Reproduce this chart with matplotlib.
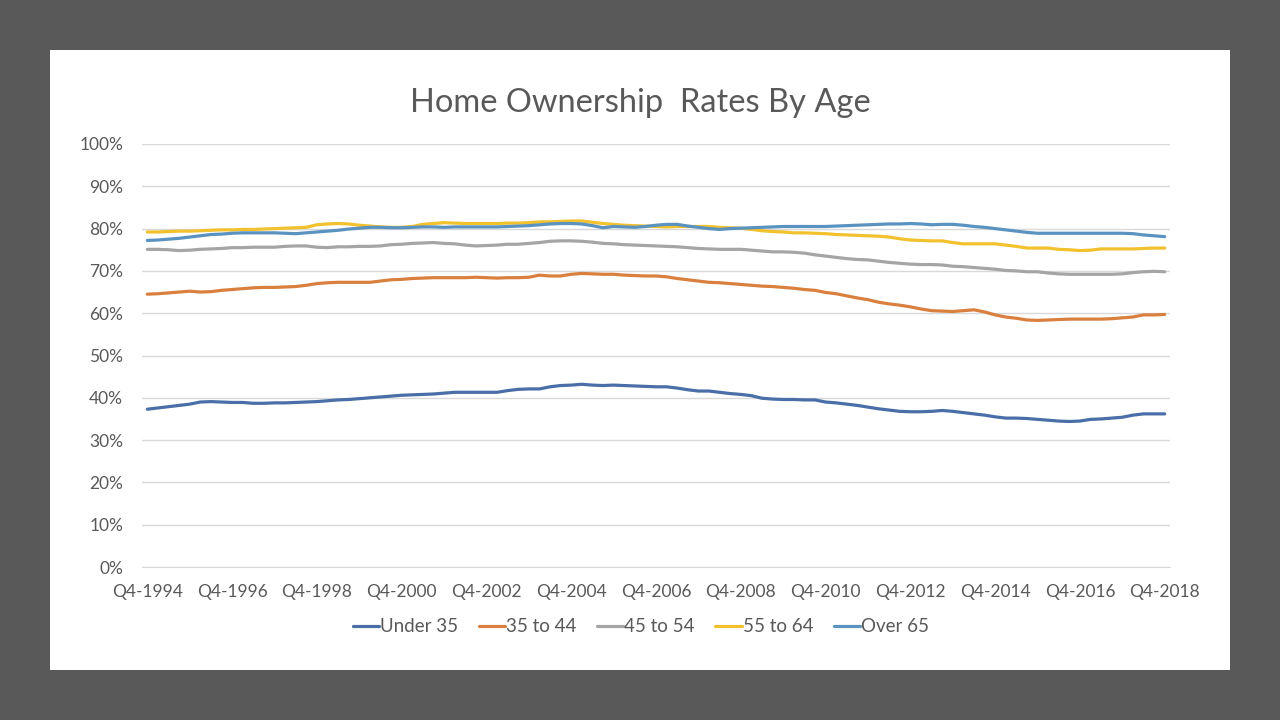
import matplotlib
matplotlib.use("Agg")
import matplotlib.pyplot as plt
from matplotlib.patches import Rectangle
import numpy as np

plt.rcParams['font.family'] = ['Lato', 'DejaVu Sans']

tick_labels = [f"Q4-{y}" for y in range(1994, 2019, 2)]

under_35 = [
    37.3, 37.6, 37.9, 38.2, 38.5, 39.0, 39.1, 39.0, 38.9, 38.9, 38.7, 38.7,
    38.8, 38.8, 38.9, 39.0, 39.1, 39.3, 39.5, 39.6, 39.8, 40.0, 40.2, 40.4,
    40.6, 40.7, 40.8, 40.9, 41.1, 41.3, 41.3, 41.3, 41.3, 41.3, 41.7, 42.0,
    42.1, 42.1, 42.6, 42.9, 43.0, 43.2, 43.0, 42.9, 43.0, 42.9, 42.8, 42.7,
    42.6, 42.6, 42.3, 41.9, 41.6, 41.6, 41.3, 41.0, 40.8, 40.5, 39.9, 39.7,
    39.6, 39.6, 39.5, 39.5, 39.0, 38.8, 38.5, 38.2, 37.8, 37.4, 37.1, 36.8,
    36.7, 36.7, 36.8, 37.0, 36.8, 36.5, 36.2, 35.9, 35.5, 35.2, 35.2, 35.1,
    34.9, 34.7, 34.5, 34.4, 34.5, 34.9, 35.0, 35.2, 35.4, 35.9, 36.2, 36.2,
    36.2]

age_35_44 = [
    64.5, 64.6, 64.8, 65.0, 65.2, 65.0, 65.1, 65.4, 65.6, 65.8, 66.0, 66.1,
    66.1, 66.2, 66.3, 66.6, 67.0, 67.2, 67.3, 67.3, 67.3, 67.3, 67.6, 67.9,
    68.0, 68.2, 68.3, 68.4, 68.4, 68.4, 68.4, 68.5, 68.4, 68.3, 68.4, 68.4,
    68.5, 69.0, 68.8, 68.8, 69.2, 69.4, 69.3, 69.2, 69.2, 69.0, 68.9, 68.8,
    68.8, 68.6, 68.2, 67.9, 67.6, 67.3, 67.2, 67.0, 66.8, 66.6, 66.4, 66.3,
    66.1, 65.9, 65.6, 65.4, 64.9, 64.6, 64.1, 63.6, 63.2, 62.6, 62.2, 61.9,
    61.5, 61.0, 60.6, 60.5, 60.4, 60.6, 60.8, 60.3, 59.6, 59.1, 58.8, 58.4,
    58.3, 58.4, 58.5, 58.6, 58.6, 58.6, 58.6, 58.7, 58.9, 59.1, 59.6, 59.6,
    59.7]

age_45_54 = [
    75.1, 75.1, 75.0, 74.8, 74.9, 75.1, 75.2, 75.3, 75.5, 75.5, 75.6, 75.6,
    75.6, 75.8, 75.9, 75.9, 75.6, 75.5, 75.7, 75.7, 75.8, 75.8, 75.9, 76.2,
    76.3, 76.5, 76.6, 76.7, 76.5, 76.4, 76.1, 75.9, 76.0, 76.1, 76.3, 76.3,
    76.5, 76.7, 77.0, 77.1, 77.1, 77.0, 76.8, 76.5, 76.4, 76.2, 76.1, 76.0,
    75.9, 75.8, 75.7, 75.5, 75.3, 75.2, 75.1, 75.1, 75.1, 74.9, 74.7, 74.5,
    74.5, 74.4, 74.2, 73.8, 73.5, 73.2, 72.9, 72.7, 72.6, 72.3, 72.0, 71.8,
    71.6, 71.5, 71.5, 71.4, 71.1, 71.0, 70.8, 70.6, 70.4, 70.1, 70.0, 69.8,
    69.8, 69.5, 69.3, 69.2, 69.2, 69.2, 69.2, 69.2, 69.3, 69.6, 69.8, 69.9,
    69.8]

age_55_64 = [
    79.2, 79.2, 79.3, 79.4, 79.4, 79.5, 79.6, 79.7, 79.7, 79.8, 79.8, 79.9,
    80.0, 80.1, 80.2, 80.3, 80.9, 81.1, 81.2, 81.1, 80.8, 80.6, 80.4, 80.3,
    80.3, 80.5, 81.0, 81.2, 81.4, 81.3, 81.2, 81.2, 81.2, 81.2, 81.3, 81.3,
    81.4, 81.6, 81.6, 81.7, 81.8, 81.8, 81.5, 81.2, 81.0, 80.8, 80.7, 80.6,
    80.5, 80.4, 80.5, 80.5, 80.5, 80.5, 80.3, 80.2, 80.1, 79.8, 79.5, 79.3,
    79.2, 79.0, 79.0, 78.9, 78.8, 78.6, 78.5, 78.4, 78.3, 78.2, 78.0, 77.6,
    77.3, 77.2, 77.1, 77.1, 76.7, 76.4, 76.4, 76.4, 76.4, 76.1, 75.8, 75.4,
    75.4, 75.4, 75.1, 75.0, 74.8, 74.9, 75.2, 75.2, 75.2, 75.2, 75.3, 75.4,
    75.4]

over_65 = [
    77.2, 77.3, 77.5, 77.7, 78.0, 78.3, 78.6, 78.7, 78.9, 79.0, 79.0, 79.0,
    79.0, 78.9, 78.8, 79.0, 79.2, 79.4, 79.6, 79.9, 80.1, 80.3, 80.3, 80.2,
    80.2, 80.3, 80.4, 80.4, 80.3, 80.4, 80.4, 80.4, 80.4, 80.4, 80.5, 80.6,
    80.7, 80.9, 81.1, 81.2, 81.2, 81.1, 80.7, 80.2, 80.5, 80.4, 80.3, 80.5,
    80.8, 81.0, 81.0, 80.6, 80.3, 80.0, 79.8, 80.0, 80.1, 80.2, 80.3, 80.4,
    80.5, 80.5, 80.5, 80.5, 80.5, 80.6, 80.7, 80.8, 80.9, 81.0, 81.1, 81.1,
    81.2, 81.1, 80.9, 81.0, 81.0, 80.8, 80.5, 80.3, 80.0, 79.7, 79.4, 79.1,
    78.9, 78.9, 78.9, 78.9, 78.9, 78.9, 78.9, 78.9, 78.9, 78.8, 78.5, 78.3,
    78.1]

series = [
    ("Under 35", under_35, "#4a6ea8"),
    ("35 to 44", age_35_44, "#d9803f"),
    ("45 to 54", age_45_54, "#a5a5a5"),
    ("55 to 64", age_55_64, "#f2c12e"),
    ("Over 65", over_65, "#5b93c0"),
]

fig = plt.figure(figsize=(12.8, 7.2), dpi=100)
fig.patch.set_facecolor("#595959")
fig.add_artist(Rectangle((50/1280, 50/720), 1180/1280, 620/720,
                         transform=fig.transFigure, facecolor="white",
                         edgecolor="none", zorder=0))

ax = fig.add_axes([142/1280, 1 - 567/720, (1170 - 142)/1280, (567 - 144)/720])
ax.set_facecolor("none")

n = len(under_35)
x = np.arange(n)
for name, vals, col in series:
    ax.plot(x, vals, color=col, lw=2.3, label=name, solid_capstyle="round", zorder=3)

ax.set_xlim(-0.5, n - 0.5)
ax.set_ylim(0, 100)
ax.set_yticks(np.arange(0, 101, 10))
ax.set_yticklabels([f"{v}%" for v in range(0, 101, 10)])
ax.set_xticks(np.arange(0, n, 8))
ax.set_xticklabels(tick_labels)
ax.grid(axis="y", color="#d9d9d9", lw=1)
ax.set_axisbelow(True)
for s in ["top", "right", "left"]:
    ax.spines[s].set_visible(False)
ax.spines["bottom"].set_color("#d9d9d9")
ax.tick_params(axis="both", length=0, labelsize=12.5, colors="#595959")
ax.tick_params(axis="y", pad=13.5)
ax.tick_params(axis="x", pad=12)

fig.text(640/1280, 1 - 103/720, "Home Ownership  Rates By Age", ha="center", va="center",
         fontsize=23.5, color="#595959")

leg = fig.legend(loc="center", bbox_to_anchor=(641/1280, 1 - 627/720), ncol=5,
                 frameon=False, fontsize=13.5, handlelength=1.4, handletextpad=0.05,
                 columnspacing=1.1)
for t in leg.get_texts():
    t.set_color("#595959")

fig.savefig("out.png", dpi=100, facecolor=fig.get_facecolor())
